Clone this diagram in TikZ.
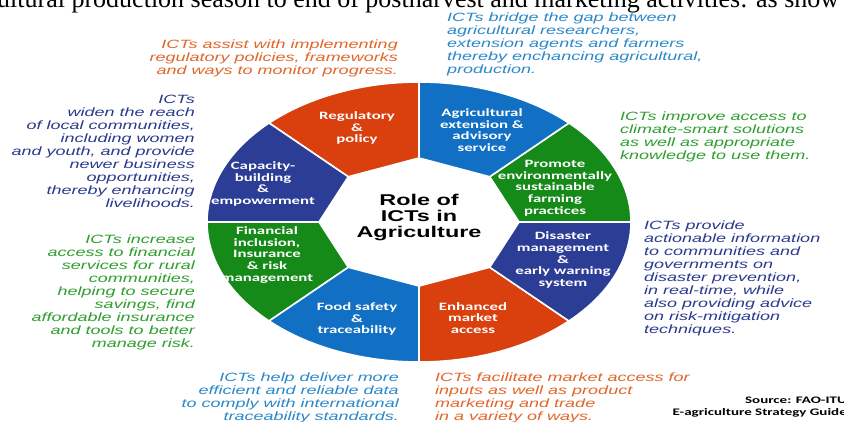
\documentclass[tikz,border=0pt]{standalone}
\usepackage{fontspec}
\setmainfont{Liberation Serif}
\newfontfamily\notefont[FakeStretch=1.5]{Liberation Sans}
\newfontfamily\segfont[FakeStretch=1.5]{Carlito}

\definecolor{ringred}{HTML}{D9400E}
\definecolor{ringblue}{HTML}{1170C4}
\definecolor{ringgreen}{HTML}{168A18}
\definecolor{ringnavy}{HTML}{2C3D96}
\definecolor{noteorange}{HTML}{E2662A}
\definecolor{noteblue}{HTML}{2B88C9}
\definecolor{notegreen}{HTML}{2E9F2E}
\definecolor{notenavy}{HTML}{2A3A8E}

\begin{document}
\begin{tikzpicture}[x = 1pt, y = -1pt,
    seg/.style = {fill = #1, draw = white, line width = 1.6pt, line join = round},
    seglabel/.style = {text = white, align = center, inner sep = 0pt,
        font = \segfont\bfseries\fontsize{11.2}{11.7}\selectfont},
    note/.style = {text = #1, inner sep = 0pt,
        font = \notefont\itshape\fontsize{12}{13}\selectfont},
    hub/.style = {align = center, inner sep = 0pt,
        font = \notefont\bfseries\fontsize{15.6}{16}\selectfont}]
    \useasboundingbox (0,0) rectangle (844,421);
    \fill[white] (0,0) rectangle (844,421);

    % cut line of the page above the figure
    \node[anchor = base west, inner sep = 0pt, font = \fontsize{26}{26}\selectfont] (pagetext) at (-3,7)
        {ultural production season to end of postharvest and marketing activities: as show};

    % the ring
    \foreach \a/\col in {0/ringgreen, 45/ringblue, 90/ringred, 135/ringnavy,
                         180/ringgreen, 225/ringblue, 270/ringred, 315/ringnavy}
        \filldraw[seg = \col] ({419+100*cos(\a)}, {222-64*sin(\a)})
            -- ({419+212*cos(\a)}, {222-140*sin(\a)})
            arc[start angle = -\a, end angle = -\a-45, x radius = 212, y radius = 140]
            -- ({419+100*cos(\a+45)}, {222-64*sin(\a+45)}) -- cycle;

    \node[hub] (hub) at (419,217) {Role of\\ICTs in\\Agriculture};

    \node[seglabel] (regulatory) at (357,128) {Regulatory\\\&\\policy};
    \node[seglabel] (extension) at (482,130) {Agricultural\\extension \&\\advisory\\service};
    \node[seglabel] (sustain) at (555,188) {Promote\\environmentally\\sustainable\\farming\\practices};
    \node[seglabel] (disaster) at (563,260) {Disaster\\management\\\&\\early warning\\system};
    \node[seglabel] (market) at (473,318) {Enhanced\\market\\access};
    \node[seglabel] (foodsafety) at (357,319) {Food safety\\\&\\traceability};
    \node[seglabel] (finance) at (267,255) {Financial\\inclusion,\\Insurance\\\& risk\\management};
    \node[seglabel] (capacity) at (263,184) {Capacity-\\building\\\&\\empowerment};

    % notes round the ring
    \node[note = noteorange, anchor = north east, align = right] (regnote) at (398,39.5)
        {ICTs assist with implementing\\regulatory policies, frameworks\\and ways to monitor progress.};
    \node[note = noteblue, anchor = north west, align = left] (extnote) at (447,12.5)
        {ICTs bridge the gap between\\agricultural researchers,\\extension agents and farmers\\thereby enchancing agricultural,\\production.};
    \node[note = notenavy, anchor = north east, align = right] (capnote) at (195,95)
        {ICTs\\widen the reach\\of local communities,\\including women\\and youth, and provide\\newer business\\opportunities,\\thereby enhancing\\livelihoods.};
    \node[note = notegreen, anchor = north west, align = left] (sustnote) at (620,111.5)
        {ICTs improve access to\\climate-smart solutions\\as well as appropriate\\knowledge to use them.};
    \node[note = notegreen, anchor = north east, align = right] (finnote) at (195,235)
        {ICTs increase\\access to financial\\services for rural\\communities,\\helping to secure\\savings, find\\affordable insurance\\and tools to better\\manage risk.};
    \node[note = notenavy, anchor = north west, align = left] (disnote) at (644,221)
        {ICTs provide\\actionable information\\to communities and\\governments on\\disaster prevention,\\in real-time, while\\also providing advice\\on risk-mitigation\\techniques.};
    \node[note = noteblue, anchor = north east, align = right] (foodnote) at (399,372.5)
        {ICTs help deliver more\\efficient and reliable data\\to comply with international\\traceability standards.};
    \node[note = noteorange, anchor = north west, align = left] (marknote) at (435,372.5)
        {ICTs facilitate market access for\\inputs as well as product\\marketing and trade\\in a variety of ways.};

    \node[anchor = north east, align = right, inner sep = 0pt,
        font = \segfont\bfseries\fontsize{10}{11.5}\selectfont] (source) at (847,397)
        {Source: FAO-ITU\\E-agriculture Strategy Guide};
\end{tikzpicture}
\end{document}
